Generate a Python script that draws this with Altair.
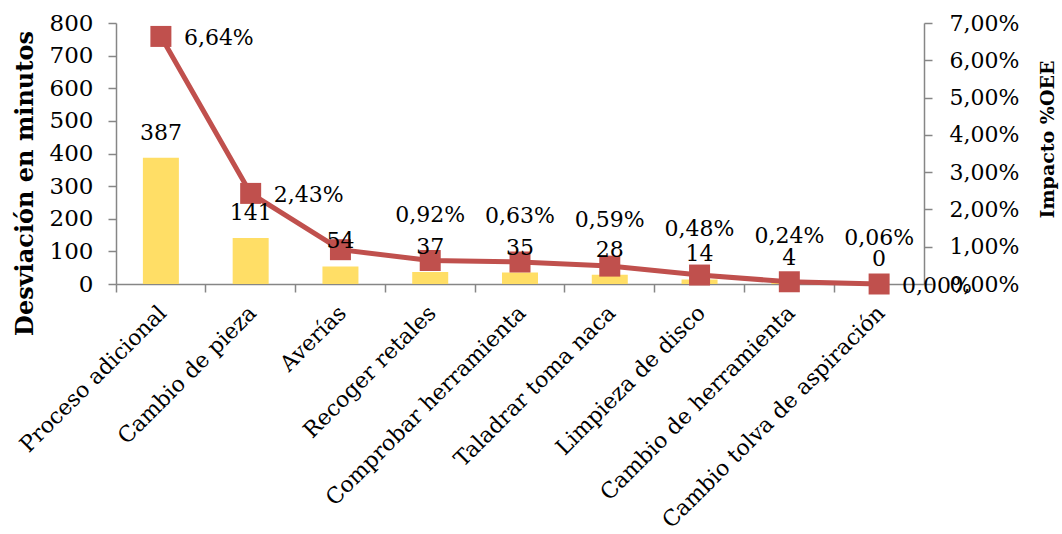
import altair as alt
import pandas as pd

# Downtime causes, minutes lost and their impact on OEE (%)
categories = [
    "Proceso adicional",
    "Cambio de pieza",
    "Averías",
    "Recoger retales",
    "Comprobar herramienta",
    "Taladrar toma naca",
    "Limpieza de disco",
    "Cambio de herramienta",
    "Cambio tolva de aspiración",
]
minutes = [387, 141, 54, 37, 35, 28, 14, 4, 0]
impact_pct = [6.64, 2.43, 0.92, 0.63, 0.59, 0.48, 0.24, 0.06, 0.00]

left_ticks = [0, 100, 200, 300, 400, 500, 600, 700, 800]
right_ticks = [0, 1, 2, 3, 4, 5, 6, 7]

FONT = "DejaVu Serif"
BAR_COLOR = "#FFDE66"
LINE_COLOR = "#C0504D"
AXIS_COLOR = "#868686"


def pct_text(v):
    return f"{v:.2f}".replace(".", ",") + "%"


df = pd.DataFrame({"cat": categories, "min": minutes, "pct": impact_pct})
df["min_label"] = df["min"].astype(str)

# Percentage labels: the first two and the last sit to the right of their
# marker; the others sit above the following marker.
side_idx = [0, 1, len(categories) - 1]
side = pd.DataFrame({
    "cat": [categories[i] for i in side_idx],
    "pct": [impact_pct[i] for i in side_idx],
    "txt": [pct_text(impact_pct[i]) for i in side_idx],
})
above_idx = list(range(2, len(categories) - 1))
above = pd.DataFrame({
    "cat": [categories[i + 1] for i in above_idx],
    "pct": [impact_pct[i + 1] for i in above_idx],
    "txt": [pct_text(impact_pct[i]) for i in above_idx],
})

x_axis = alt.Axis(
    title=None,
    labelAngle=-45,
    labelAlign="right",
    labelBaseline="middle",
    labelFont=FONT,
    labelFontSize=22,
    labelColor="black",
    labelPadding=17,
    labelOffset=2,
    labelLimit=0,
    bandPosition=0,
    tickSize=8,
    tickColor=AXIS_COLOR,
    domainColor=AXIS_COLOR,
    domainWidth=1.5,
    tickWidth=1.5,
    grid=False,
    labelOverlap=False,
)
x_enc = alt.X(
    "cat:N",
    sort=categories,
    scale=alt.Scale(paddingInner=0, paddingOuter=0),
    axis=x_axis,
)

left_scale = alt.Scale(domain=[0, 800], nice=False, zero=True)
right_scale = alt.Scale(domain=[0, 7], nice=False, zero=True)

bars = alt.Chart(df).mark_bar(width=36, color=BAR_COLOR).encode(
    x=x_enc,
    y=alt.Y(
        "min:Q",
        scale=left_scale,
        axis=alt.Axis(
            orient="left",
            values=left_ticks,
            format="d",
            title="Desviación en minutos",
            titleFont=FONT,
            titleFontSize=24,
            titleFontWeight="bold",
            titleColor="black",
            titleAngle=270,
            titleAlign="center",
            titleBaseline="middle",
            titleX=-91,
            titleY=160,
            labelFont=FONT,
            labelFontSize=23,
            labelColor="black",
            labelPadding=15,
            tickSize=8,
            tickColor=AXIS_COLOR,
            tickWidth=1.5,
            domainColor=AXIS_COLOR,
            domainWidth=1.5,
            grid=False,
        ),
    ),
)

line = alt.Chart(df).mark_line(color=LINE_COLOR, strokeWidth=5).encode(
    x=x_enc,
    y=alt.Y(
        "pct:Q",
        scale=right_scale,
        axis=alt.Axis(
            orient="right",
            values=right_ticks,
            labelExpr="replace(format(datum.value, '.2f'), '.', ',') + '%'",
            title="Impacto %OEE",
            titleFont=FONT,
            titleFontSize=19,
            titleFontWeight="bold",
            titleColor="black",
            titleAngle=270,
            titleAlign="center",
            titleBaseline="middle",
            titleX=123,
            titleY=116,
            labelFont=FONT,
            labelFontSize=22,
            labelColor="black",
            labelPadding=17,
            tickSize=8,
            tickColor=AXIS_COLOR,
            tickWidth=1.5,
            domainColor=AXIS_COLOR,
            domainWidth=1.5,
            grid=False,
        ),
    ),
)

markers = alt.Chart(df).mark_square(size=441, color=LINE_COLOR, opacity=1).encode(
    x=x_enc,
    y=alt.Y("pct:Q", scale=right_scale, axis=None),
)

bar_labels = alt.Chart(df).mark_text(
    font=FONT, fontSize=22, color="black", baseline="alphabetic", dy=-18
).encode(
    x=x_enc,
    y=alt.Y("min:Q", scale=left_scale, axis=None),
    text="min_label:N",
)

side_labels = alt.Chart(side).mark_text(
    font=FONT, fontSize=22, color="black", align="left", baseline="middle",
    dx=23, dy=2,
).encode(
    x=x_enc,
    y=alt.Y("pct:Q", scale=right_scale, axis=None),
    text="txt:N",
)

above_labels = alt.Chart(above).mark_text(
    font=FONT, fontSize=22, color="black", align="center", baseline="middle",
    dy=-46,
).encode(
    x=x_enc,
    y=alt.Y("pct:Q", scale=right_scale, axis=None),
    text="txt:N",
)

chart = (
    alt.layer(bars, line, markers, bar_labels, side_labels, above_labels)
    .resolve_scale(y="independent")
    .properties(
        width=808,
        height=261,
        autosize=alt.AutoSizeParams(type="none"),
        padding={"left": 116, "top": 23, "right": 138, "bottom": 250},
        background="white",
    )
    .configure_view(stroke=None)
)

chart.save("out.html", embed_options={"renderer": "svg", "actions": False})
